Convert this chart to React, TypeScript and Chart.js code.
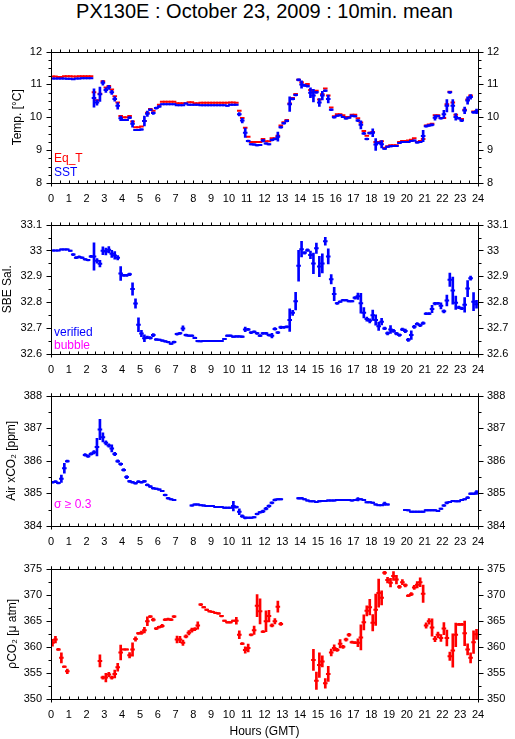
import React, { useEffect, useRef } from 'react';
import { Chart, registerables } from 'chart.js';

Chart.register(...registerables);

const FONT = '"Liberation Sans", Arial, Helvetica, sans-serif';
const RED = '#ff0000';
const BLUE = '#0000ff';
const MAGENTA = '#ff00ff';

// x axis: hour labels and 10-minute slots (start hour of each slot)
const HOUR_LABELS = [0, 1, 2, 3, 4, 5, 6, 7, 8, 9, 10, 11, 12, 13, 14, 15, 16, 17, 18, 19, 20, 21, 22, 23, 24];
const SLOT_HOURS = Array.from({ length: 144 }, (_, i) => i / 6);
const SLOT_MID = 5 / 60;

// Panel 1: equilibrator temperature (red) and SST (blue), deg C
const EQ_T = [
  11.24, 11.24, 11.23, 11.23, 11.25, 11.25, 11.25, 11.24, 11.24, 11.25, 11.25, 11.25,
  11.25, 11.25, 10.76, 10.52, 10.72, 11.10, 10.91, 10.95, 10.85, 10.64, 10.45, 10.04,
  10.00, 10.00, 10.04, 9.87, 9.70, 9.70, 9.72, 9.89, 10.14, 10.25, 10.20, 10.28,
  10.38, 10.47, 10.47, 10.47, 10.47, 10.47, 10.43, 10.43, 10.43, 10.43, 10.46, 10.46,
  10.43, 10.43, 10.44, 10.44, 10.44, 10.44, 10.44, 10.44, 10.44, 10.44, 10.44, 10.44,
  10.45, 10.45, 10.44, 10.20, 9.98, 9.68, 9.41, 9.25, 9.25, 9.25, 9.25, 9.34,
  9.27, 9.27, 9.36, 9.36, 9.44, 9.75, 9.85, 9.92, 10.42, 10.59, 10.71, 11.14,
  11.07, 10.99, 11.01, 10.83, 10.78, 10.81, 10.54, 10.70, 10.88, 10.66, 10.30, 10.03,
  10.09, 10.09, 10.06, 10.01, 10.01, 10.08, 10.08, 9.97, 9.84, 9.58, 9.44, 9.53,
  9.55, 9.25, 9.25, 9.27, 9.07, 9.12, 9.15, 9.15, 9.15, 9.25, 9.28, 9.28,
  9.29, 9.32, 9.36, 9.25, 9.28, 9.34, 9.75, 9.78, 9.80, 10.06, 10.06, 9.98,
  9.98, 10.40, 10.78, 10.45, 10.08, 9.98, 9.95, 10.23, 10.54, 10.66, 10.18, 10.18,
];
const SST = [
  11.18, 11.18, 11.18, 11.18, 11.18, 11.17, 11.17, 11.16, 11.18, 11.18, 11.19, 11.19,
  11.19, 11.19, 10.59, 10.45, 10.70, 11.05, 10.83, 10.91, 10.76, 10.56, 10.35, 9.97,
  9.92, 9.92, 9.99, 9.80, 9.61, 9.61, 9.63, 9.89, 10.11, 10.23, 10.13, 10.28,
  10.33, 10.40, 10.40, 10.40, 10.40, 10.40, 10.37, 10.37, 10.37, 10.42, 10.38, 10.38,
  10.38, 10.38, 10.37, 10.37, 10.37, 10.37, 10.37, 10.37, 10.37, 10.37, 10.37, 10.35,
  10.38, 10.38, 10.38, 10.09, 9.90, 9.53, 9.28, 9.18, 9.17, 9.15, 9.16, 9.29,
  9.20, 9.18, 9.31, 9.34, 9.41, 9.70, 9.82, 9.89, 10.40, 10.56, 10.68, 11.14,
  11.00, 10.97, 10.95, 10.75, 10.66, 10.76, 10.45, 10.66, 10.81, 10.56, 10.23, 10.00,
  10.05, 10.06, 10.01, 9.96, 9.99, 10.05, 10.03, 9.90, 9.77, 9.51, 9.34, 9.52,
  9.53, 9.17, 9.22, 9.18, 9.04, 9.10, 9.12, 9.13, 9.13, 9.22, 9.25, 9.25,
  9.25, 9.28, 9.29, 9.23, 9.25, 9.43, 9.73, 9.75, 9.77, 9.99, 10.04, 9.97,
  10.09, 10.35, 10.76, 10.35, 10.01, 9.97, 9.90, 10.21, 10.51, 10.62, 10.15, 10.18,
];
const SST_ERR = [
  0.01, 0.01, 0.01, 0.01, 0.01, 0.01, 0.01, 0.01, 0.01, 0.01, 0.01, 0.01,
  0.01, 0.01, 0.28, 0.08, 0.22, 0.07, 0.07, 0.06, 0.06, 0.07, 0.10, 0.07,
  0.02, 0.02, 0.03, 0.10, 0.02, 0.02, 0.02, 0.15, 0.08, 0.03, 0.04, 0.03,
  0.03, 0.01, 0.01, 0.01, 0.01, 0.01, 0.01, 0.01, 0.01, 0.01, 0.01, 0.01,
  0.01, 0.01, 0.01, 0.01, 0.01, 0.01, 0.01, 0.01, 0.01, 0.01, 0.01, 0.01,
  0.01, 0.01, 0.01, 0.05, 0.07, 0.14, 0.03, 0.02, 0.02, 0.02, 0.02, 0.04,
  0.02, 0.02, 0.03, 0.03, 0.14, 0.03, 0.03, 0.03, 0.22, 0.03, 0.03, 0.03,
  0.11, 0.03, 0.03, 0.15, 0.19, 0.03, 0.12, 0.13, 0.03, 0.12, 0.03, 0.03,
  0.02, 0.02, 0.02, 0.02, 0.02, 0.02, 0.02, 0.03, 0.12, 0.03, 0.03, 0.03,
  0.12, 0.18, 0.03, 0.11, 0.02, 0.02, 0.02, 0.02, 0.02, 0.02, 0.02, 0.02,
  0.02, 0.02, 0.02, 0.02, 0.02, 0.17, 0.03, 0.03, 0.03, 0.08, 0.03, 0.03,
  0.12, 0.19, 0.03, 0.19, 0.10, 0.03, 0.03, 0.10, 0.11, 0.07, 0.03, 0.07,
];

// Panel 2: SBE salinity (verified)
const SAL = [
  33.000, 33.000, 33.000, 33.004, 33.004, 33.004, 32.999, 32.984, 32.972, 32.975, 32.972, 32.966,
  32.963, 32.977, 32.977, 32.960, 32.949, 32.999, 32.996, 33.003, 32.987, 32.981, 32.972, 32.911,
  32.904, 32.904, 32.908, 32.851, 32.795, 32.713, 32.679, 32.661, 32.664, 32.662, 32.673, 32.656,
  32.655, 32.652, 32.649, 32.646, 32.640, 32.646, 32.677, 32.680, 32.699, 32.673, 32.671, 32.671,
  32.662, 32.650, 32.649, 32.650, 32.650, 32.650, 32.650, 32.650, 32.650, 32.650, 32.658, 32.671,
  32.671, 32.667, 32.668, 32.668, 32.667, 32.695, 32.695, 32.683, 32.686, 32.680, 32.671, 32.680,
  32.680, 32.673, 32.671, 32.697, 32.683, 32.703, 32.703, 32.705, 32.731, 32.759, 32.804, 32.941,
  33.005, 32.991, 33.001, 32.983, 32.950, 33.009, 32.938, 32.950, 33.036, 32.977, 32.889, 32.832,
  32.796, 32.802, 32.808, 32.808, 32.804, 32.804, 32.817, 32.823, 32.796, 32.759, 32.735, 32.728,
  32.750, 32.731, 32.707, 32.725, 32.699, 32.680, 32.695, 32.689, 32.679, 32.673, 32.695, 32.689,
  32.655, 32.673, 32.705, 32.716, 32.711, 32.719, 32.756, 32.756, 32.774, 32.795, 32.796, 32.786,
  32.765, 32.807, 32.887, 32.845, 32.798, 32.780, 32.776, 32.790, 32.853, 32.893, 32.802, 32.792,
];
const SAL_ERR = [
  0.002, 0.002, 0.002, 0.002, 0.002, 0.002, 0.003, 0.004, 0.004, 0.004, 0.003, 0.003,
  0.003, 0.004, 0.053, 0.009, 0.013, 0.015, 0.013, 0.012, 0.014, 0.015, 0.008, 0.027,
  0.004, 0.004, 0.005, 0.024, 0.018, 0.027, 0.012, 0.013, 0.005, 0.005, 0.006, 0.004,
  0.003, 0.003, 0.003, 0.003, 0.003, 0.004, 0.004, 0.004, 0.010, 0.004, 0.003, 0.003,
  0.003, 0.003, 0.002, 0.002, 0.002, 0.002, 0.002, 0.002, 0.002, 0.002, 0.002, 0.003,
  0.003, 0.003, 0.003, 0.003, 0.003, 0.009, 0.004, 0.004, 0.004, 0.004, 0.004, 0.004,
  0.004, 0.004, 0.009, 0.005, 0.004, 0.005, 0.004, 0.004, 0.044, 0.010, 0.034, 0.060,
  0.030, 0.005, 0.005, 0.015, 0.040, 0.020, 0.039, 0.037, 0.015, 0.029, 0.018, 0.026,
  0.004, 0.003, 0.003, 0.003, 0.003, 0.003, 0.005, 0.012, 0.038, 0.020, 0.008, 0.008,
  0.020, 0.020, 0.016, 0.013, 0.005, 0.006, 0.015, 0.006, 0.005, 0.005, 0.005, 0.007,
  0.006, 0.017, 0.006, 0.005, 0.005, 0.005, 0.004, 0.004, 0.014, 0.005, 0.004, 0.012,
  0.006, 0.021, 0.026, 0.052, 0.026, 0.005, 0.005, 0.028, 0.031, 0.008, 0.035, 0.015,
];

// Panel 3: atmospheric xCO2, ppm
const XCO2 = [
  385.34, 385.36, 385.32, 385.45, 385.77, 385.99, null, null, null, null, null, 386.18,
  386.14, 386.21, 386.26, 386.42, 386.96, 386.72, 386.55, 386.47, 386.38, 386.21, 385.99, 385.90,
  385.72, 385.50, 385.37, 385.34, 385.31, 385.36, 385.34, 385.37, 385.26, 385.21, 385.16, 385.14,
  385.12, 385.07, 384.95, 384.85, 384.82, 384.80, null, null, null, null, null, 384.63,
  384.66, 384.66, 384.64, 384.63, 384.61, 384.61, 384.61, 384.58, 384.58, 384.58, 384.56, 384.56,
  384.56, 384.61, 384.58, 384.44, 384.30, 384.25, 384.25, 384.25, 384.27, 384.37, 384.42, 384.45,
  384.53, 384.61, 384.71, 384.80, 384.82, 384.82, null, null, null, null, null, 384.85,
  384.85, 384.82, 384.78, 384.76, 384.76, 384.74, 384.76, 384.77, 384.77, 384.78, 384.78, 384.78,
  384.80, 384.80, 384.80, 384.80, 384.80, 384.78, 384.80, 384.82, 384.82, 384.80, 384.73, 384.73,
  384.71, 384.66, 384.64, 384.64, 384.68, 384.66, null, null, null, null, null, 384.49,
  384.48, 384.44, 384.44, 384.44, 384.44, 384.44, 384.48, 384.48, 384.48, 384.48, 384.46, 384.53,
  384.63, 384.71, 384.74, 384.77, 384.76, 384.76, 384.80, 384.82, 384.87, 384.99, 384.99, 385.03,
];
const XCO2_ERR = [
  0.03, 0.03, 0.03, 0.11, 0.15, 0.03, 0, 0, 0, 0, 0, 0.04,
  0.04, 0.04, 0.05, 0.27, 0.31, 0.14, 0.06, 0.05, 0.11, 0.05, 0.04, 0.04,
  0.04, 0.05, 0.03, 0.03, 0.03, 0.03, 0.03, 0.03, 0.03, 0.03, 0.03, 0.02,
  0.02, 0.02, 0.03, 0.03, 0.02, 0.02, 0, 0, 0, 0, 0, 0.02,
  0.02, 0.02, 0.02, 0.02, 0.02, 0.02, 0.02, 0.02, 0.02, 0.02, 0.02, 0.02,
  0.02, 0.15, 0.03, 0.09, 0.04, 0.03, 0.02, 0.02, 0.02, 0.03, 0.03, 0.04,
  0.04, 0.04, 0.03, 0.03, 0.02, 0.02, 0, 0, 0, 0, 0, 0.03,
  0.03, 0.02, 0.02, 0.02, 0.02, 0.02, 0.02, 0.02, 0.02, 0.02, 0.02, 0.02,
  0.02, 0.02, 0.02, 0.02, 0.02, 0.02, 0.02, 0.05, 0.02, 0.02, 0.02, 0.02,
  0.02, 0.02, 0.02, 0.02, 0.05, 0.02, 0, 0, 0, 0, 0, 0.02,
  0.02, 0.02, 0.02, 0.02, 0.02, 0.02, 0.02, 0.02, 0.02, 0.02, 0.02, 0.02,
  0.03, 0.03, 0.02, 0.02, 0.02, 0.02, 0.02, 0.02, 0.03, 0.03, 0.03, 0.06,
];

// Panel 4: seawater pCO2, uatm
const PCO2 = [
  360.8, 361.4, 359.5, 357.9, 356.2, 355.3, null, null, null, null, null, null,
  null, null, null, null, 357.3, 354.1, 354.1, 354.7, 354.1, 354.8, 356.1, 358.9,
  359.5, 359.5, 358.4, 359.5, 361.5, 362.6, 362.7, 363.2, 364.9, 365.8, 365.2, 363.5,
  363.8, 364.0, 365.2, 365.3, 365.2, 365.8, 361.4, 361.4, 360.8, 362.0, 362.7, 363.2,
  363.4, 364.1, 368.1, 367.6, 367.1, 366.8, 366.7, 366.5, 366.4, 365.9, 365.0, 364.7,
  364.7, 365.0, 365.0, 362.3, 360.6, 359.4, 359.8, 362.3, 363.2, 367.9, 366.8, 362.9,
  364.9, 365.9, 364.1, 364.9, 367.7, 364.4, null, null, null, null, null, null,
  null, null, null, null, 357.5, 353.5, 356.5, 357.2, 353.0, 354.8, 358.9, 359.8,
  359.4, 360.6, 360.0, 361.4, 362.3, 360.9, 360.8, 360.8, 361.8, 364.7, 366.9, 367.6,
  364.6, 367.1, 370.3, 369.4, 374.2, 372.8, 372.3, 373.6, 372.9, 371.5, 372.4, 371.8,
  369.8, 370.1, 371.4, 371.9, 372.4, 370.2, 364.1, 364.9, 363.7, 361.5, 362.3, 361.7,
  363.5, 361.7, 358.2, 359.3, 362.3, 364.3, 364.3, 362.6, 359.5, 357.9, 360.9, 362.4,
];
const PCO2_ERR = [
  0.66, 0.63, 0.2, 0.97, 0.15, 0.45, 0, 0, 0, 0, 0, 0,
  0, 0, 0, 0, 1.15, 0.3, 0.82, 0.4, 0.3, 0.75, 0.75, 1.42,
  0.1, 0.1, 0.51, 1.27, 0.4, 0.2, 0.3, 0.54, 0.85, 0.2, 0.3, 0.2,
  0.2, 0.3, 0.2, 0.2, 0.2, 0.2, 0.66, 0.6, 0.51, 0.3, 0.4, 0.4,
  0.3, 0.7, 0.2, 0.15, 0.15, 0.15, 0.15, 0.15, 0.15, 0.15, 0.15, 0.15,
  0.15, 0.15, 0.66, 0.75, 0.2, 0.6, 0.75, 0.2, 0.8, 2.1, 2.4, 0.2,
  2.0, 1.1, 0.3, 0.5, 1.05, 0.3, 0, 0, 0, 0, 0, 0,
  0, 0, 0, 0, 2.0, 1.66, 2.36, 1.06, 0.9, 1.45, 0.66, 0.6,
  0.3, 0.8, 0.3, 0.3, 0.3, 0.2, 0.2, 0.75, 2.4, 1.45, 0.97, 1.5,
  1.57, 3.0, 2.7, 1.36, 0.3, 0.54, 0.82, 0.85, 0.82, 0.3, 0.5, 0.3,
  0.2, 0.3, 0.4, 0.6, 0.85, 1.66, 0.5, 0.54, 1.66, 0.5, 0.54, 0.66,
  1.15, 1.5, 0.8, 3.2, 2.26, 0.2, 0.2, 2.36, 1.06, 0.97, 2.17, 0.97,
];

type Series = { name: string; values: (number | null)[]; err: number[] | null; color: string };
type PanelSpec = {
  top: number; bottom: number; yMin: number; yMax: number; step: number; minor: number;
  title: string; titlePad: number; series: Series[];
};

const PANELS: PanelSpec[] = [
  {
    top: 44, bottom: 183, yMin: 8, yMax: 12, step: 1, minor: 0.25, title: 'Temp. [°C]', titlePad: 10,
    series: [
      { name: 'SST', values: SST, err: SST_ERR, color: BLUE },
      { name: 'Eq_T', values: EQ_T, err: null, color: RED },
    ],
  },
  {
    top: 217, bottom: 354, yMin: 32.6, yMax: 33.1, step: 0.1, minor: 0.05, title: 'SBE Sal.', titlePad: 0,
    series: [{ name: 'verified', values: SAL, err: SAL_ERR, color: BLUE }],
  },
  {
    top: 388, bottom: 526, yMin: 384, yMax: 388, step: 1, minor: 0.5, title: 'Air xCO\u2082 [ppm]', titlePad: 4,
    series: [{ name: 'xCO2', values: XCO2, err: XCO2_ERR, color: BLUE }],
  },
  {
    top: 561, bottom: 699, yMin: 350, yMax: 375, step: 5, minor: 2.5, title: '\u03c1CO\u2082 [\u03bc atm]', titlePad: 5,
    series: [{ name: 'pCO2', values: PCO2, err: PCO2_ERR, color: RED }],
  },
];

const PAD_TOP = 8;
const AXIS_H = 30;
const LEFT_W = 51;
const RIGHT_W = 37;
const W = 515;

const framePlugin = {
  id: 'frameTicks',
  afterDatasetsDraw(chart: any, _args: any, opts: any) {
    const { ctx, chartArea } = chart;
    const xs = chart.scales.x;
    const ys = chart.scales.y;
    const L = Math.round(chartArea.left) + 0.5;
    const R = Math.round(chartArea.right) + 0.5;
    const T = Math.round(chartArea.top) + 0.5;
    const B = Math.round(chartArea.bottom) + 0.5;
    ctx.save();
    ctx.strokeStyle = '#000';
    ctx.lineWidth = 1;
    ctx.beginPath();
    ctx.moveTo(L, T);
    ctx.lineTo(R, T);
    ctx.moveTo(L, B);
    ctx.lineTo(R, B);
    ctx.moveTo(L, T - 3);
    ctx.lineTo(L, B + 3);
    ctx.moveTo(R, T - 3);
    ctx.lineTo(R, B + 3);
    for (let h = 0; h <= 24.001; h += 0.5) {
      const X = Math.round(xs.getPixelForValue(h)) + 0.5;
      ctx.moveTo(X, T - 3);
      ctx.lineTo(X, T);
      ctx.moveTo(X, B);
      ctx.lineTo(X, B - 3);
    }
    const n = Math.round((opts.max - opts.min) / opts.minor);
    for (let k = 0; k <= n; k++) {
      const v = opts.min + k * opts.minor;
      const Y = Math.round(ys.getPixelForValue(v)) + 0.5;
      const r = v / opts.step;
      const major = Math.abs(r - Math.round(r)) < 1e-6;
      const len = major ? 5 : 3;
      ctx.moveTo(L - len, Y);
      ctx.lineTo(L, Y);
      ctx.moveTo(R, Y);
      ctx.lineTo(R + len, Y);
    }
    ctx.stroke();
    ctx.restore();
  },
};

const fmt = (v: any) => String(Number(Number(v).toFixed(2)));

function Panel({ spec }: { spec: PanelSpec }) {
  const ref = useRef<HTMLCanvasElement | null>(null);
  const height = spec.bottom - spec.top + PAD_TOP + AXIS_H;

  useEffect(() => {
    const canvas = ref.current;
    if (!canvas) return;
    const datasets: any[] = [];
    spec.series.forEach((s, k) => {
      const pts: any[] = [];
      const bars: any[] = [];
      s.values.forEach((v, i) => {
        if (v == null) return;
        const x = SLOT_HOURS[i] + SLOT_MID;
        pts.push({ x, y: v });
        const e = s.err ? s.err[i] : 0;
        if (e > 0) bars.push({ x, y: [v - e, v + e] });
      });
      datasets.push({
        type: 'scatter',
        label: s.name,
        data: pts,
        showLine: false,
        pointStyle: 'line',
        pointRadius: 2.3,
        pointHoverRadius: 2.3,
        pointBorderWidth: 2,
        pointHoverBorderWidth: 2,
        pointBorderColor: s.color,
        pointBackgroundColor: s.color,
        order: k * 2,
      });
      if (bars.length) {
        datasets.push({
          type: 'bar',
          label: s.name + ' sd',
          data: bars,
          backgroundColor: s.color,
          borderWidth: 0,
          barThickness: 2,
          grouped: false,
          order: k * 2 + 1,
        });
      }
    });

    const tickFont = { family: FONT, size: 11 };
    const yCommon = {
      type: 'linear',
      min: spec.yMin,
      max: spec.yMax,
      grid: { display: false, drawTicks: false },
      border: { display: false },
      ticks: { stepSize: spec.step, font: tickFont, color: '#000', padding: 9, callback: fmt },
    };

    const chart = new Chart(canvas, {
      type: 'scatter',
      data: { datasets },
      options: {
        animation: false,
        responsive: false,
        devicePixelRatio: 1,
        events: [],
        layout: { padding: { top: PAD_TOP, left: 0, right: 0, bottom: 0 } },
        plugins: {
          legend: { display: false },
          tooltip: { enabled: false },
          frameTicks: { min: spec.yMin, max: spec.yMax, step: spec.step, minor: spec.minor },
        } as any,
        scales: {
          x: {
            type: 'linear',
            position: 'bottom',
            min: 0,
            max: 24,
            offset: false,
            grid: { display: false, drawTicks: false },
            border: { display: false },
            ticks: {
              stepSize: 1,
              autoSkip: false,
              maxRotation: 0,
              font: tickFont,
              color: '#000',
              padding: 9,
              callback: (v: any) => (HOUR_LABELS.includes(Number(v)) ? String(v) : ''),
            },
            afterFit: (s: any) => { s.height = AXIS_H; },
          },
          y: {
            ...yCommon,
            position: 'left',
            title: {
              display: true,
              text: spec.title,
              color: '#000',
              font: { family: FONT, size: 12 },
              padding: { top: spec.titlePad, bottom: 0 },
            },
            afterFit: (s: any) => { s.width = LEFT_W; },
          },
          y2: {
            ...yCommon,
            position: 'right',
            afterFit: (s: any) => { s.width = RIGHT_W; },
          },
        } as any,
      },
      plugins: [framePlugin],
    } as any);
    return () => chart.destroy();
  }, [spec]);

  return (
    <canvas
      ref={ref}
      width={W}
      height={height}
      style={{ position: 'absolute', left: 0, top: spec.top - PAD_TOP, width: W, height, display: 'block' }}
    />
  );
}

const textStyle = (color: string, size: number): React.CSSProperties => ({
  position: 'absolute',
  fontFamily: FONT,
  fontSize: size,
  lineHeight: '14px',
  color,
  whiteSpace: 'nowrap',
});

export default function App() {
  return (
    <div style={{ position: 'absolute', left: 0, top: 0, width: W, height: 739, background: '#fff', overflow: 'hidden' }}>
      <div
        style={{
          position: 'absolute', left: 51, top: 0, width: 427, textAlign: 'center',
          fontFamily: FONT, fontSize: 20, lineHeight: '22px', color: '#000', whiteSpace: 'nowrap',
        }}
      >
        PX130E : October 23, 2009 : 10min. mean
      </div>
      {PANELS.map((p, i) => <Panel key={i} spec={p} />)}
      <div style={{ ...textStyle(RED, 12), left: 54, top: 151 }}>Eq_T</div>
      <div style={{ ...textStyle(BLUE, 12), left: 54, top: 165 }}>SST</div>
      <div style={{ ...textStyle(BLUE, 12), left: 54, top: 325 }}>verified</div>
      <div style={{ ...textStyle(MAGENTA, 12), left: 54, top: 338 }}>bubble</div>
      <div style={{ ...textStyle(MAGENTA, 12), left: 54, top: 497 }}>σ ≥ 0.3</div>
      <div style={{ ...textStyle('#000', 12), left: 51, top: 724, width: 427, textAlign: 'center' }}>Hours (GMT)</div>
    </div>
  );
}
